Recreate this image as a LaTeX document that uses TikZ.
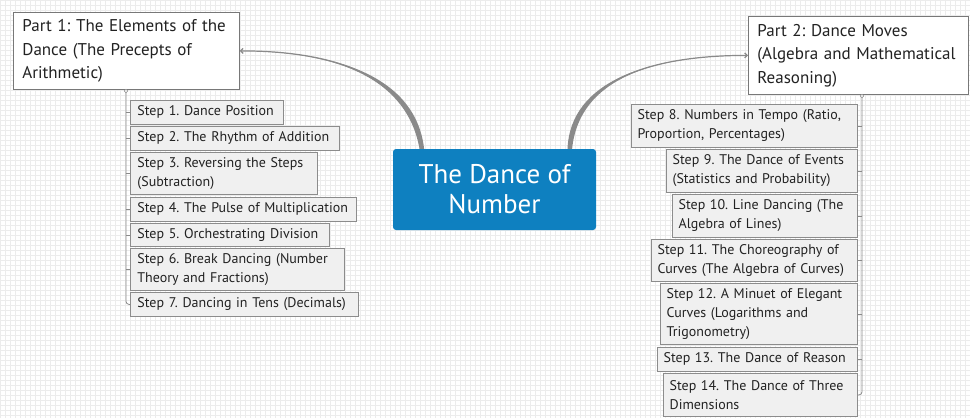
\documentclass[tikz,border=0pt]{standalone}
\usepackage{fontspec}
\setmainfont{PT Sans}
\usetikzlibrary{arrows.meta,calc}
\definecolor{gridc}{RGB}{236,236,236}
\definecolor{stepfill}{RGB}{240,240,240}
\definecolor{stepdraw}{RGB}{140,140,140}
\definecolor{partdraw}{RGB}{120,120,120}
\definecolor{centerblue}{RGB}{14,128,192}
\definecolor{conncol}{RGB}{138,138,138}
\definecolor{textcol}{RGB}{34,34,34}
\frenchspacing
\hyphenpenalty=10000
\exhyphenpenalty=10000
\begin{document}
\begin{tikzpicture}[x=1pt,y=-1pt,
  stepbox/.style={draw=stepdraw, fill=stepfill, line width=0.8pt, inner xsep=7pt, inner ysep=0pt, align=left, text=textcol, font=\fontsize{14}{19}\selectfont},
  stepL/.style={stepbox, anchor=north west},
  stepR/.style={stepbox, anchor=north east, inner xsep=6pt},
  partbox/.style={draw=partdraw, fill=white, line width=0.8pt, inner xsep=9pt, inner ysep=0pt, align=left, text=textcol, font=\fontsize{17}{23.5}\selectfont, anchor=north west},
  centerbox/.style={fill=centerblue, rounded corners=3pt, text=white, align=center, font=\fontsize{27}{30}\selectfont},
  tree/.style={draw=conncol, line width=0.8pt},
  curvefill/.style={fill=conncol},
  curveline/.style={draw=conncol, line width=1.2pt},
  tip/.style={-{Straight Barb[length=2.5pt,width=5pt]}}
]
\useasboundingbox (0,0) rectangle (970,418);
\fill[white] (0,0) rectangle (970,418);
\draw[gridc, line width=0.4pt, step=5pt] (0,0) grid (970,418);

% parts and center
\node[partbox, text width=208pt, minimum height=77pt] (p1) at (13,12)
  {Part 1: The Elements of the\\Dance (The Precepts of\\Arithmetic)};
\node[partbox, text width=202pt, minimum height=78pt] (p2) at (748,16)
  {Part 2: Dance Moves\\(Algebra and Mathematical\\Reasoning)};
\node[centerbox, minimum width=203pt, minimum height=81pt] (c) at (494.5,189.5)
  {The Dance of\\Number};

% main connectors (tapered)
\coordinate (cla) at ([xshift=26.7pt]c.north west);
\coordinate (clb) at ([xshift=31.3pt]c.north west);
\coordinate (clm) at ([xshift=29pt]c.north west);
\fill[curvefill] (cla) .. controls +(-12,-68) and +(101,0) .. (p1.east)
  .. controls +(101,0) and +(-8,-70) .. (clb) -- cycle;
\draw[curveline, tip] (clm) .. controls +(-10,-69) and +(101,0) .. (p1.east);

\coordinate (cra) at ([xshift=174.7pt]c.north west);
\coordinate (crb) at ([xshift=179.3pt]c.north west);
\coordinate (crm) at ([xshift=177pt]c.north west);
\fill[curvefill] (cra) .. controls +(3,-69) and +(-97,0) .. (p2.west)
  .. controls +(-97,0) and +(7,-69) .. (crb) -- cycle;
\draw[curveline, tip] (crm) .. controls +(5,-69) and +(-97,0) .. (p2.west);

% left steps
\node[stepL, text width=139pt, minimum height=24pt] (s1) at (130,100) {Step 1. Dance Position};
\node[stepL, text width=195pt, minimum height=24pt] (s2) at (130,126) {Step 2. The Rhythm of Addition};
\node[stepL, text width=173pt, minimum height=42pt] (s3) at (130,152) {Step 3. Reversing the Steps\\(Subtraction)};
\node[stepL, text width=212pt, minimum height=24pt] (s4) at (130,197) {Step 4. The Pulse of Multiplication};
\node[stepL, text width=185pt, minimum height=23pt] (s5) at (130,223) {Step 5. Orchestrating Division};
\node[stepL, text width=200pt, minimum height=42pt] (s6) at (130,248) {Step 6. Break Dancing (Number\\Theory and Fractions)};
\node[stepL, text width=214pt, minimum height=24pt] (s7) at (130,292) {Step 7. Dancing in Tens (Decimals)};

% right steps
\node[stepR, text width=214pt, minimum height=43pt] (s8) at (858,104) {Step 8. Numbers in Tempo (Ratio,\\Proportion, Percentages)};
\node[stepR, text width=179pt, minimum height=43pt] (s9) at (858,149) {Step 9. The Dance of Events\\(Statistics and Probability)};
\node[stepR, text width=173pt, minimum height=43pt] (s10) at (858,194) {Step 10. Line Dancing (The\\Algebra of Lines)};
\node[stepR, text width=194pt, minimum height=42pt] (s11) at (858,239) {Step 11. The Choreography of\\Curves (The Algebra of Curves)};
\node[stepR, text width=185pt, minimum height=61pt] (s12) at (858,283) {Step 12. A Minuet of Elegant\\Curves (Logarithms and\\Trigonometry)};
\node[stepR, text width=188pt, minimum height=24pt] (s13) at (858,347) {Step 13. The Dance of Reason};
\node[stepR, text width=182pt, minimum height=43pt] (s14) at (858,373) {Step 14. The Dance of Three\\Dimensions};

% trees
\coordinate (tl) at (126,91);
\draw[tree, rounded corners=3pt] (tl) |- (s7.west);
\foreach \n in {s1,s2,s3,s4,s5,s6} \draw[tree] (tl |- \n.west) -- (\n.west);
\draw[tree, fill=white, line width=0.5pt] (tl) circle (1.8pt);

\coordinate (tr) at (862,96);
\draw[tree, rounded corners=3pt] (tr) |- (s14.east);
\foreach \n in {s8,s9,s10,s11,s12,s13} \draw[tree] (tr |- \n.east) -- (\n.east);
\draw[tree, fill=white, line width=0.5pt] (tr) circle (1.8pt);
\end{tikzpicture}
\end{document}
